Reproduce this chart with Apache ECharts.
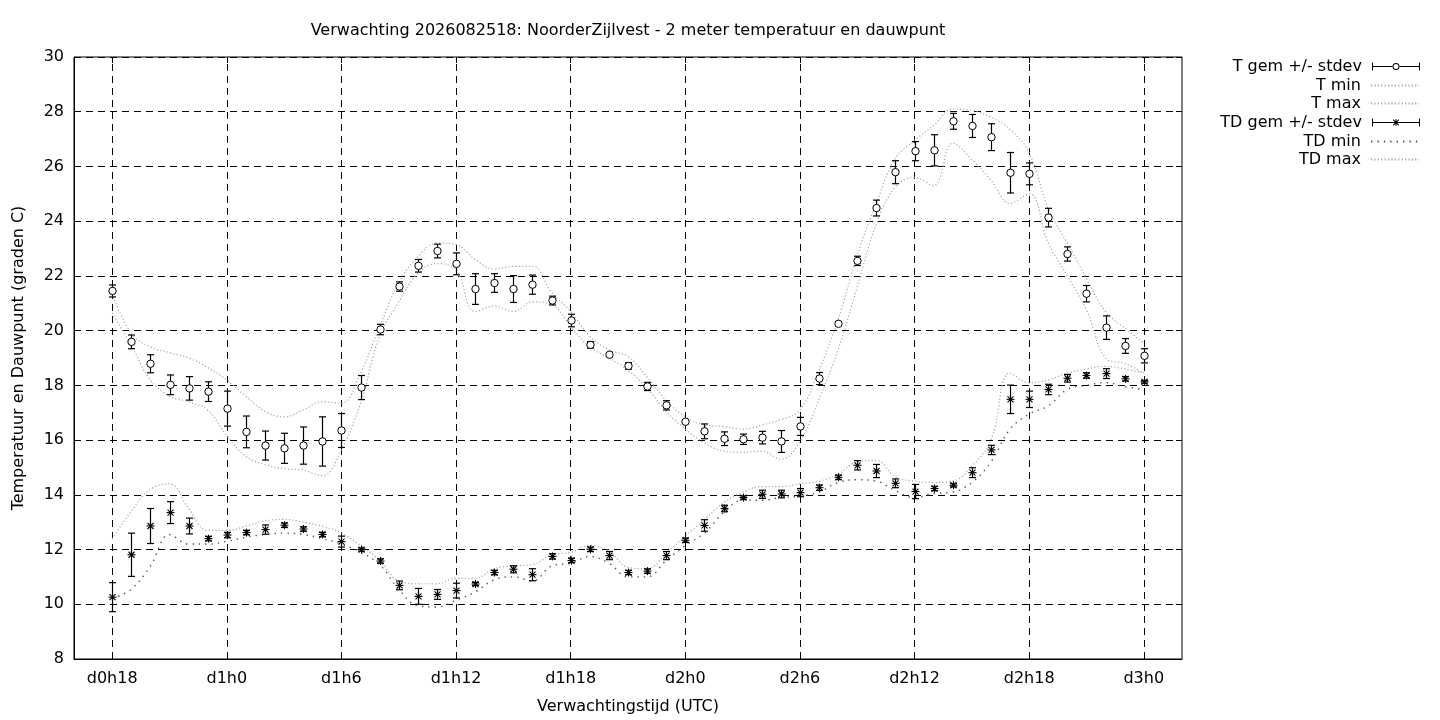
<!DOCTYPE html>
<html><head><meta charset="utf-8">
<script src="https://cdn.jsdelivr.net/npm/echarts@6/dist/echarts.min.js"></script>
<style>html,body{margin:0;padding:0;background:#fff}#c{width:1440px;height:720px}</style>
</head><body><div id="c"></div>
<script>
const hours = [18,19,20,21,22,23,24,25,26,27,28,29,30,31,32,33,34,35,36,37,38,39,40,41,42,43,44,45,46,47,48,49,50,51,52,53,54,55,56,57,58,59,60,61,62,63,64,65,66,67,68,69,70,71,72];
const tickHours = [18,24,30,36,42,48,54,60,66,72];
const tickLabels = ['d0h18','d1h0','d1h6','d1h12','d1h18','d2h0','d2h6','d2h12','d2h18','d3h0'];

const tMean = [21.45,19.59,18.79,18.02,17.89,17.77,17.15,16.30,15.80,15.70,
  15.80,15.95,16.35,17.92,20.04,21.61,22.37,22.91,22.44,21.52,
  21.74,21.52,21.68,21.10,20.37,19.48,19.12,18.71,17.96,17.27,
  16.67,16.32,16.05,16.03,16.09,15.95,16.50,18.25,20.25,22.55,
  24.48,25.79,26.56,26.59,27.65,27.48,27.07,25.77,25.73,24.13,
  22.80,21.35,20.11,19.44,19.08];
const tStd = [0.22,0.25,0.33,0.36,0.43,0.36,0.64,0.58,0.53,0.55,
  0.68,0.90,0.62,0.44,0.19,0.17,0.23,0.25,0.40,0.56,
  0.34,0.49,0.35,0.16,0.23,0.12,0.05,0.12,0.15,0.17,
  0.05,0.27,0.25,0.19,0.23,0.40,0.33,0.22,0.05,0.17,
  0.29,0.42,0.35,0.57,0.29,0.42,0.49,0.74,0.40,0.34,
  0.26,0.30,0.43,0.27,0.26];
const tMax = [21.35,19.90,19.40,19.20,19.00,18.65,18.20,17.60,17.05,16.85,
  17.10,17.40,17.35,18.45,20.15,21.75,22.70,23.20,23.15,22.60,
  22.25,22.35,22.35,21.40,20.70,19.80,19.30,19.05,18.30,17.45,
  16.85,16.55,16.50,16.40,16.55,16.75,17.10,18.55,20.40,22.75,
  24.65,26.30,26.95,27.50,28.10,28.05,27.80,27.35,26.50,24.45,
  23.20,21.90,20.70,20.10,19.55];
const tMin = [20.65,19.45,18.20,17.60,17.40,17.10,16.15,15.40,15.10,14.95,
  14.90,14.70,15.65,17.35,19.80,21.05,22.10,22.45,22.20,20.70,
  20.90,20.70,21.05,20.95,20.15,19.40,19.00,18.55,17.90,17.05,
  16.40,15.90,15.60,15.55,15.60,15.30,15.95,17.50,19.30,21.60,
  23.90,25.25,25.60,25.30,26.85,26.25,25.50,24.65,25.00,23.20,
  22.00,20.75,19.00,18.80,18.45];

const tdMean = [10.26,11.81,12.86,13.35,12.86,12.40,12.53,12.62,12.73,12.89,
  12.75,12.55,12.29,12.00,11.58,10.69,10.29,10.36,10.50,10.74,
  11.16,11.28,11.08,11.75,11.60,12.01,11.78,11.16,11.21,11.78,
  12.34,12.88,13.50,13.90,14.02,14.03,14.08,14.26,14.64,15.08,
  14.87,14.42,14.12,14.23,14.35,14.81,15.64,17.49,17.49,17.85,
  18.26,18.36,18.43,18.24,18.13];
const tdStd = [0.53,0.79,0.64,0.40,0.29,0.08,0.10,0.08,0.17,0.08,
  0.08,0.08,0.20,0.06,0.08,0.16,0.29,0.18,0.27,0.06,
  0.08,0.13,0.22,0.10,0.08,0.08,0.15,0.08,0.08,0.15,
  0.08,0.21,0.12,0.06,0.15,0.14,0.15,0.10,0.08,0.17,
  0.24,0.16,0.26,0.08,0.06,0.18,0.17,0.52,0.30,0.19,
  0.14,0.10,0.18,0.08,0.05];
const tdMax = [12.40,13.40,14.20,14.40,13.50,12.70,12.70,12.85,13.05,13.10,
  13.00,12.85,12.60,12.15,11.60,10.85,10.75,10.75,10.95,10.95,
  11.30,11.40,11.45,11.80,11.90,12.15,11.95,11.35,11.30,11.85,
  12.50,13.10,13.70,14.10,14.30,14.30,14.40,14.50,14.75,15.20,
  15.25,14.65,14.50,14.45,14.50,15.05,16.00,18.45,18.10,18.20,
  18.45,18.60,18.70,18.60,18.45];
const tdMin = [10.20,10.55,11.40,12.55,12.20,12.20,12.30,12.45,12.55,12.60,
  12.55,12.40,12.20,11.90,11.45,10.55,9.95,9.90,10.15,10.45,
  10.90,11.00,10.85,11.40,11.50,11.75,11.50,11.00,11.00,11.60,
  12.15,12.60,13.35,13.80,13.80,13.90,13.95,14.10,14.45,14.55,
  14.50,14.15,13.90,14.05,14.10,14.45,15.20,16.40,16.95,17.25,
  17.85,18.00,18.10,17.95,17.85];

const seriesNames = ['T gem +/- stdev','T min','T max','TD gem +/- stdev','TD min','TD max'];

const FONT = 'DejaVu Sans';
const FS = 16;

function pairs(ys) { return hours.map((h, i) => [h, ys[i]]); }
function errData(mean, sd) { return hours.map((h, i) => [h, mean[i] - sd[i], mean[i] + sd[i], mean[i]]); }

function errRender(kind) {
  return function (params, api) {
    const x = api.value(0);
    const pLo = api.coord([x, api.value(1)]);
    const pHi = api.coord([x, api.value(2)]);
    const pM = api.coord([x, api.value(3)]);
    const cx = Math.round(pM[0]) + 0.5;
    const cw = 3.5;
    const st = { stroke: '#000', lineWidth: 1.2 };
    const ch = [
      { type: 'line', shape: { x1: cx, y1: pLo[1], x2: cx, y2: pHi[1] }, style: st },
      { type: 'line', shape: { x1: cx - cw, y1: pLo[1], x2: cx + cw, y2: pLo[1] }, style: st },
      { type: 'line', shape: { x1: cx - cw, y1: pHi[1], x2: cx + cw, y2: pHi[1] }, style: st }
    ];
    if (kind === 'circle') {
      ch.push({ type: 'circle', shape: { cx: cx, cy: pM[1], r: 3.7 }, style: { fill: '#fff', stroke: '#000', lineWidth: 1 } });
    } else {
      const r = 4, d = 3;
      const s2 = { stroke: '#000', lineWidth: 1.1 };
      const cy = pM[1];
      ch.push({ type: 'line', shape: { x1: cx, y1: cy - r, x2: cx, y2: cy + r }, style: s2 });
      ch.push({ type: 'line', shape: { x1: cx - r, y1: cy, x2: cx + r, y2: cy }, style: s2 });
      ch.push({ type: 'line', shape: { x1: cx - d, y1: cy - d, x2: cx + d, y2: cy + d }, style: s2 });
      ch.push({ type: 'line', shape: { x1: cx - d, y1: cy + d, x2: cx + d, y2: cy - d }, style: s2 });
    }
    return { type: 'group', children: ch };
  };
}

const iconT = 'path://M0,0H1V8H0Z M1,3.5H20.3V4.5H1Z M27.7,3.5H47V4.5H27.7Z M47,0H48V8H47Z M27.5,4A3.5,3.5,0,1,0,20.5,4A3.5,3.5,0,1,0,27.5,4Z M26.5,4A2.5,2.5,0,1,1,21.5,4A2.5,2.5,0,1,1,26.5,4Z';
const iconTD = 'path://M0,0H1V8H0Z M1,3.5H47V4.5H1Z M47,0H48V8H47Z M23.5,0.5H24.5V7.5H23.5Z M20.8,1.5L21.5,0.8L27.2,6.5L26.5,7.2Z M26.5,0.8L27.2,1.5L21.5,7.2L20.8,6.5Z';
const legendIcons = [iconT, null, null, iconTD, null, null];
const legendRowY = [65, 84, 102, 121, 140, 158];

const legends = seriesNames.map((n, i) => {
  const item = { name: n };
  if (legendIcons[i]) item.icon = legendIcons[i];
  const lg = {
    data: [item], orient: 'vertical', right: 20, top: legendRowY[i] - 6.5, padding: 0,
    align: 'right', itemWidth: 48, itemHeight: 8, selectedMode: false,
    formatter: (name) => name + ' ',
    textStyle: { fontFamily: FONT, fontSize: FS, color: '#000' }
  };
  if (!legendIcons[i]) lg.itemStyle = { opacity: 0 };
  return lg;
});

const chart = echarts.init(document.getElementById('c'));
const gridLine = { color: '#000', width: 1, type: [7, 5] };
chart.setOption({
  animation: false,
  backgroundColor: '#fff',
  textStyle: { fontFamily: FONT },
  title: {
    text: 'Verwachting 2026082518: NoorderZijlvest - 2 meter temperatuur en dauwpunt',
    left: 628, textAlign: 'center', top: 22.5, padding: 0,
    textStyle: { fontFamily: FONT, fontSize: FS, fontWeight: 'normal', color: '#000' }
  },
  legend: legends,
  grid: { left: 74, right: 258, top: 57, bottom: 60, show: true, borderColor: '#000', borderWidth: 1, containLabel: false },
  xAxis: [
    {
      type: 'value', min: 16, max: 74, position: 'bottom',
      name: 'Verwachtingstijd (UTC)', nameLocation: 'middle', nameGap: 40,
      nameTextStyle: { fontFamily: FONT, fontSize: FS, color: '#000' },
      axisLine: { show: true, lineStyle: { color: '#000' } },
      axisTick: { show: true, inside: true, length: 6, customValues: tickHours, lineStyle: { color: '#000' } },
      axisLabel: { show: true, customValues: tickHours, margin: 12, fontFamily: FONT, fontSize: FS, color: '#000',
        formatter: (v) => tickLabels[tickHours.indexOf(v)] },
      splitLine: { show: false }
    },
    {
      type: 'value', min: 16, max: 74, position: 'top',
      axisLine: { show: false },
      axisTick: { show: true, inside: true, length: 6, customValues: tickHours, lineStyle: { color: '#000' } },
      axisLabel: { show: false },
      splitLine: { show: false }
    }
  ],
  yAxis: [
    {
      type: 'value', min: 8, max: 30, interval: 2, position: 'left',
      name: 'Temperatuur en Dauwpunt (graden C)', nameLocation: 'middle', nameGap: 47,
      nameTextStyle: { fontFamily: FONT, fontSize: FS, color: '#000' },
      axisLine: { show: true, lineStyle: { color: '#000' } },
      axisTick: { show: true, inside: true, length: 6, lineStyle: { color: '#000' } },
      axisLabel: { margin: 10, fontFamily: FONT, fontSize: FS, color: '#000' },
      splitLine: { show: true, lineStyle: gridLine }
    },
    {
      type: 'value', min: 8, max: 30, interval: 2, position: 'right',
      axisLine: { show: false },
      axisTick: { show: true, inside: true, length: 6, lineStyle: { color: '#000' } },
      axisLabel: { show: false },
      splitLine: { show: false }
    }
  ],
  series: [
    {
      name: 'T min', type: 'line', data: pairs(tMin), smooth: 0.4, symbol: 'none', z: 3,
      lineStyle: { color: '#a6a6a6', width: 1.2, type: [1.2, 2.2] }, itemStyle: { color: 'rgba(0,0,0,0)' }
    },
    {
      name: 'T max', type: 'line', data: pairs(tMax), smooth: 0.4, symbol: 'none', z: 3,
      lineStyle: { color: '#a6a6a6', width: 1.2, type: [1.2, 2.2] }, itemStyle: { color: 'rgba(0,0,0,0)' }
    },
    {
      name: 'TD min', type: 'line', data: pairs(tdMin), smooth: 0.4, symbol: 'none', z: 3,
      lineStyle: { color: '#555', width: 1.4, type: [1.4, 5] }, itemStyle: { color: 'rgba(0,0,0,0)' }
    },
    {
      name: 'TD max', type: 'line', data: pairs(tdMax), smooth: 0.4, symbol: 'none', z: 3,
      lineStyle: { color: '#a6a6a6', width: 1.2, type: [1.2, 2.2] }, itemStyle: { color: 'rgba(0,0,0,0)' }
    },
    {
      name: 'T gem +/- stdev', type: 'custom', renderItem: errRender('circle'), data: errData(tMean, tStd),
      encode: { x: 0, y: [1, 2, 3] }, itemStyle: { color: '#000' }, z: 5,
      markLine: {
        silent: true, symbol: 'none', label: { show: false }, z: 1,
        lineStyle: gridLine, emphasis: { disabled: true },
        data: tickHours.map(h => ({ xAxis: h }))
      }
    },
    {
      name: 'TD gem +/- stdev', type: 'custom', renderItem: errRender('star'), data: errData(tdMean, tdStd),
      encode: { x: 0, y: [1, 2, 3] }, itemStyle: { color: '#000' }, z: 5
    }
  ]
});
</script>
</body></html>
